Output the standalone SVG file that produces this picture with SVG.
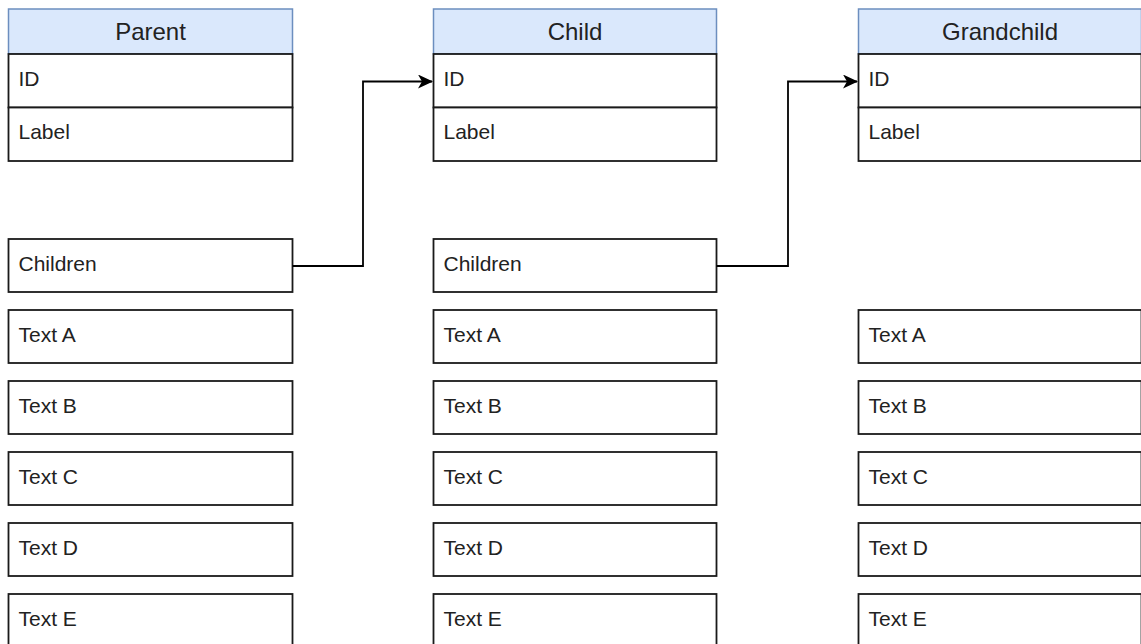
<svg xmlns="http://www.w3.org/2000/svg" width="1141" height="644" viewBox="0 0 1141 644">
<style>
.hdr{fill:#dae8fc;stroke:#6c8ebf;stroke-width:1.5}
.row{fill:#ffffff;stroke:#1a1a1a;stroke-width:1.8}
.ht{font-family:"Liberation Sans",Arial,sans-serif;font-size:24px;fill:#222;text-anchor:middle}
.bt{font-family:"Liberation Sans",Arial,sans-serif;font-size:21px;fill:#222}
.edge{fill:none;stroke:#000;stroke-width:1.8}
</style>
<defs>
<marker id="arr" markerWidth="16" markerHeight="16" refX="14" refY="7" orient="auto" markerUnits="userSpaceOnUse">
<path d="M0,0 L15,7 L0,14 L4,7 Z" fill="#000"/>
</marker>
</defs>
<rect width="1141" height="644" fill="#fff"/>
<g id="parent">
<rect class="hdr" x="8.5" y="9" width="284" height="45"/>
<text class="ht" x="150.5" y="40">Parent</text>
<rect class="row" x="8.5" y="54" width="284" height="53.5"/>
<text class="bt" x="18.5" y="85.5">ID</text>
<rect class="row" x="8.5" y="107.5" width="284" height="53.5"/>
<text class="bt" x="18.5" y="139">Label</text>
</g>
<g id="parent-rows">
<rect class="row" x="8.5" y="239" width="284" height="53"/><text class="bt" x="18.5" y="270.5">Children</text>
<rect class="row" x="8.5" y="310" width="284" height="53"/><text class="bt" x="18.5" y="341.5">Text A</text>
<rect class="row" x="8.5" y="381" width="284" height="53"/><text class="bt" x="18.5" y="412.5">Text B</text>
<rect class="row" x="8.5" y="452" width="284" height="53"/><text class="bt" x="18.5" y="483.5">Text C</text>
<rect class="row" x="8.5" y="523" width="284" height="53"/><text class="bt" x="18.5" y="554.5">Text D</text>
<rect class="row" x="8.5" y="594" width="284" height="53"/><text class="bt" x="18.5" y="625.5">Text E</text>
</g>
<g id="child">
<rect class="hdr" x="433.5" y="9" width="283" height="45"/>
<text class="ht" x="575" y="40">Child</text>
<rect class="row" x="433.5" y="54" width="283" height="53.5"/>
<text class="bt" x="443.5" y="85.5">ID</text>
<rect class="row" x="433.5" y="107.5" width="283" height="53.5"/>
<text class="bt" x="443.5" y="139">Label</text>
</g>
<g id="child-rows">
<rect class="row" x="433.5" y="239" width="283" height="53"/><text class="bt" x="443.5" y="270.5">Children</text>
<rect class="row" x="433.5" y="310" width="283" height="53"/><text class="bt" x="443.5" y="341.5">Text A</text>
<rect class="row" x="433.5" y="381" width="283" height="53"/><text class="bt" x="443.5" y="412.5">Text B</text>
<rect class="row" x="433.5" y="452" width="283" height="53"/><text class="bt" x="443.5" y="483.5">Text C</text>
<rect class="row" x="433.5" y="523" width="283" height="53"/><text class="bt" x="443.5" y="554.5">Text D</text>
<rect class="row" x="433.5" y="594" width="283" height="53"/><text class="bt" x="443.5" y="625.5">Text E</text>
</g>
<g id="grandchild">
<rect class="hdr" x="858.5" y="9" width="283" height="45"/>
<text class="ht" x="1000" y="40">Grandchild</text>
<rect class="row" x="858.5" y="54" width="283" height="53.5"/>
<text class="bt" x="868.5" y="85.5">ID</text>
<rect class="row" x="858.5" y="107.5" width="283" height="53.5"/>
<text class="bt" x="868.5" y="139">Label</text>
</g>
<g id="grandchild-rows">
<rect class="row" x="858.5" y="310" width="283" height="53"/><text class="bt" x="868.5" y="341.5">Text A</text>
<rect class="row" x="858.5" y="381" width="283" height="53"/><text class="bt" x="868.5" y="412.5">Text B</text>
<rect class="row" x="858.5" y="452" width="283" height="53"/><text class="bt" x="868.5" y="483.5">Text C</text>
<rect class="row" x="858.5" y="523" width="283" height="53"/><text class="bt" x="868.5" y="554.5">Text D</text>
<rect class="row" x="858.5" y="594" width="283" height="53"/><text class="bt" x="868.5" y="625.5">Text E</text>
</g>
<g id="connectors">
<path class="edge" d="M292.5,266 H363 V81.5 H432" marker-end="url(#arr)"/>
<path class="edge" d="M716.5,266 H788 V81.5 H857" marker-end="url(#arr)"/>
</g>
</svg>
